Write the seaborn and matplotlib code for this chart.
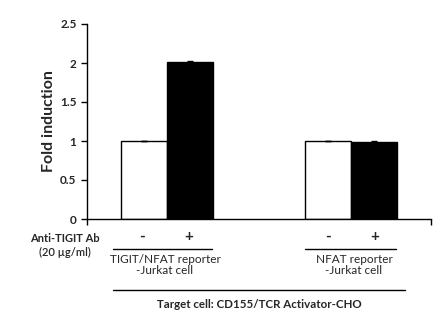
import pandas as pd
import matplotlib
matplotlib.use("Agg")
import matplotlib.pyplot as plt
from matplotlib.lines import Line2D
import seaborn as sns

# data
groups = ["TIGIT/NFAT reporter\n-Jurkat cell", "NFAT reporter\n-Jurkat cell"]
antibody = ["-", "+"]
fold = [[1.0, 2.01], [1.0, 0.99]]
sd = [[0.005, 0.01], [0.005, 0.01]]
yticks = [0, 0.5, 1, 1.5, 2, 2.5]
ytick_labels = ["0", "0.5", "1", "1.5", "2", "2.5"]

rows = []
for g, vals in zip(groups, fold):
	for a, v in zip(antibody, vals):
		rows.append({"group": g, "ab": a, "fold": v})
df = pd.DataFrame(rows)

sns.set_style("white")
plt.rcParams['font.family'] = ['Lato', 'DejaVu Sans']

fig = plt.figure(figsize=(4.44, 3.25), dpi=100)
ax = fig.add_axes([87/444, 1-219/325, 344/444, 195/325])

sns.barplot(data=df, x="group", y="fold", hue="ab", hue_order=antibody,
	palette=["white", "black"], edgecolor="black", linewidth=1,
	width=0.5, errorbar=None, legend=False, ax=ax)

# tiny error bars
for i, g in enumerate(groups):
	for j, a in enumerate(antibody):
		x = i - 0.125 + 0.25*j
		ax.errorbar(x, fold[i][j], yerr=sd[i][j], color="black", capsize=2, lw=0.8)

ax.set_xlim(-0.435, 1.435)
ax.set_ylim(0, 2.5)
ax.set_yticks(yticks)
ax.set_yticklabels(ytick_labels, fontsize=8.5, fontweight="bold")
ax.set_xticks([-0.435, 1.435])
ax.set_xticklabels([])
ax.tick_params(axis="both", direction="out", length=4, width=1, color="black", left=True, bottom=True)
ax.set_ylabel("Fold induction", fontsize=11.5, fontweight="bold", labelpad=3)
ax.set_xlabel("")
for s in ["top", "right"]:
	ax.spines[s].set_visible(False)
for s in ["left", "bottom"]:
	ax.spines[s].set_color("black")
	ax.spines[s].set_linewidth(1)

def px(x, y):
	return x/444, 1-y/325

# labels under the axis
fig.text(*px(65, 238), "Anti-TIGIT Ab", ha="center", va="center", fontsize=8, fontweight="bold")
fig.text(*px(65, 252), "(20 \u00b5g/ml)", ha="center", va="center", fontsize=8, fontweight="semibold")

signs_x = [[142, 189], [328, 375]]
line_x = [[113, 212], [305, 396]]
centers = [165, 354]
for i, g in enumerate(groups):
	for j, a in enumerate(antibody):
		fig.text(*px(signs_x[i][j], 237), a, ha="center", va="center", fontsize=11, fontweight="bold")
	x0, y0 = px(line_x[i][0], 249)
	x1, _ = px(line_x[i][1], 249)
	fig.add_artist(Line2D([x0, x1], [y0, y0], color="black", lw=1, transform=fig.transFigure))
	fig.text(*px(centers[i], 265), g, ha="center", va="center", fontsize=8.5, linespacing=1.05)

x0, y0 = px(113, 290)
x1, _ = px(405, 290)
fig.add_artist(Line2D([x0, x1], [y0, y0], color="black", lw=1, transform=fig.transFigure))
fig.text(*px(259, 305), "Target cell: CD155/TCR Activator-CHO", ha="center", va="center",
	fontsize=8.3, fontweight="bold")

fig.savefig("out.png", dpi=100)
